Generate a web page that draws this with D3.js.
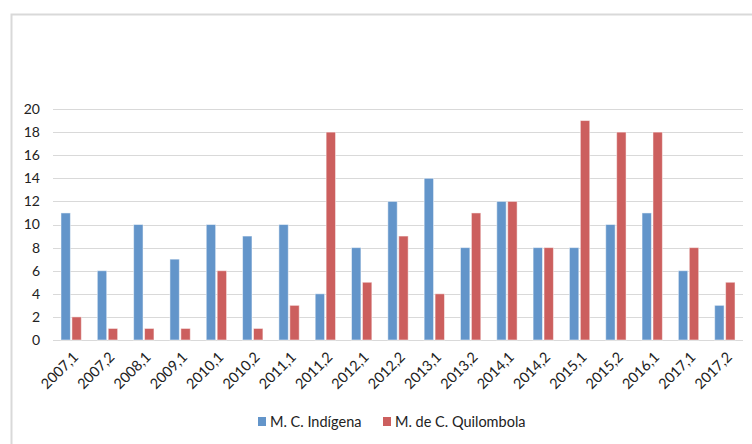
<!DOCTYPE html>
<html><head><meta charset="utf-8">
<script src="https://cdn.jsdelivr.net/npm/d3@7"></script>
<style>body{margin:0;background:#fff}svg{display:block}text{font-family:Lato,"Open Sans",sans-serif;fill:#222}</style>
</head><body><svg id="c" width="752" height="444"></svg>
<script>
const categories = ["2007,1","2007,2","2008,1","2009,1","2010,1","2010,2","2011,1","2011,2","2012,1","2012,2","2013,1","2013,2","2014,1","2014,2","2015,1","2015,2","2016,1","2017,1","2017,2"];
const indigena   = [11,6,10,7,10,9,10,4,8,12,14,8,12,8,8,10,11,6,3];
const quilombola = [2,1,1,1,6,1,3,18,5,9,4,11,12,8,19,18,18,8,5];
const seriesNames = ["M. C. Indígena","M. de C. Quilombola"];
const yTicks = [0,2,4,6,8,10,12,14,16,18,20];

const colors = ["#6395CA","#CC5F5E"];
const svg = d3.select("#c");
const L=53, R=743, T=109, B=340;

// frame
svg.append("path").attr("d","M11.5,444 V14.5 H752").attr("fill","none").attr("stroke","#d9d9d9").attr("stroke-width",2);

const x = d3.scaleBand().domain(categories).range([L,R]).paddingInner(0.44).paddingOuter(0.22);
const y = d3.scaleLinear().domain([0,20]).range([B,T]);

// grid
svg.append("g").selectAll("line").data(yTicks).join("line")
  .attr("x1",L).attr("x2",R).attr("y1",d=>Math.round(y(d))+0.5).attr("y2",d=>Math.round(y(d))+0.5)
  .attr("stroke","#d9d9d9").attr("stroke-width",1.2);

// y axis labels
const ya = svg.append("g").attr("transform",`translate(${L-13},0)`)
  .call(d3.axisLeft(y).tickValues(yTicks).tickSize(0).tickPadding(0));
ya.select(".domain").remove();
ya.selectAll("text").attr("font-size",14).attr("font-family","Lato, sans-serif").attr("fill","#222");

const x1 = d3.scaleBand().domain([0,1]).range([0,x.bandwidth()]).paddingInner(0.14);
const data = [indigena, quilombola];
categories.forEach((c,i)=>{
  data.forEach((s,k)=>{
    svg.append("rect")
      .attr("x",x(c)+x1(k)).attr("width",x1.bandwidth())
      .attr("y",y(s[i])).attr("height",y(0)-y(s[i]))
      .attr("fill",colors[k]).attr("stroke","#fff").attr("stroke-opacity",0.5).attr("stroke-width",1);
  });
});

// x axis labels
const xa = svg.append("g").attr("transform",`translate(0,${B})`)
  .call(d3.axisBottom(x).tickSize(0).tickPadding(0));
xa.select(".domain").remove();
xa.selectAll("text").attr("font-size",14.5).attr("font-family","Lato, sans-serif").attr("fill","#222")
  .attr("text-anchor","end").attr("dy",0)
  .attr("transform","translate(8,18) rotate(-45)");

// legend
const leg = [{x:258},{x:383}];
seriesNames.forEach((n,k)=>{
  svg.append("rect").attr("x",leg[k].x).attr("y",417).attr("width",8).attr("height",9).attr("fill",colors[k]);
  svg.append("text").attr("x",leg[k].x+12).attr("y",427).attr("font-size",14.5).text(n);
});
</script></body></html>
